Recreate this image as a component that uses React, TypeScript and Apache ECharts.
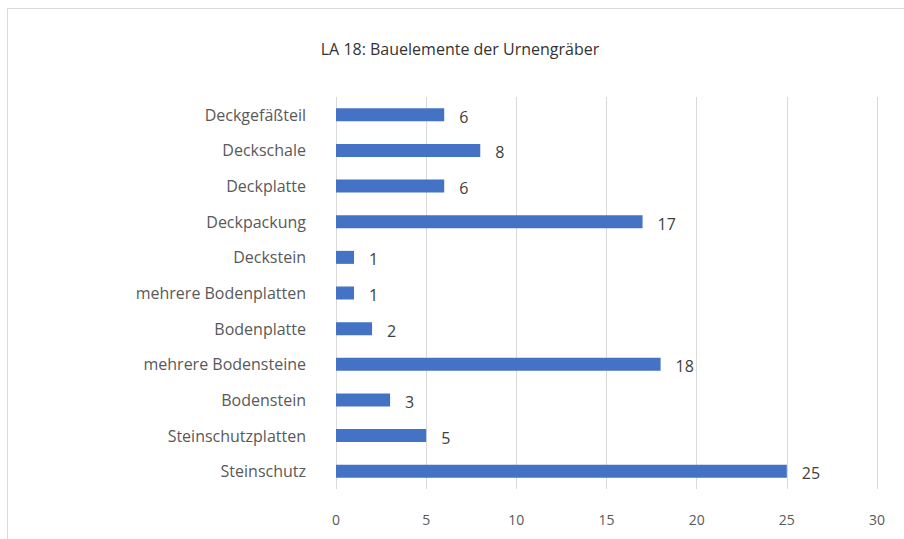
import React, { useEffect, useRef } from "react";
import * as echarts from "echarts";

const categories = [
  "Deckgefäßteil",
  "Deckschale",
  "Deckplatte",
  "Deckpackung",
  "Deckstein",
  "mehrere Bodenplatten",
  "Bodenplatte",
  "mehrere Bodensteine",
  "Bodenstein",
  "Steinschutzplatten",
  "Steinschutz",
];
const values = [6, 8, 6, 17, 1, 1, 2, 18, 3, 5, 25];
const titleText = "LA 18: Bauelemente der Urnengräber";

export default function App() {
  const ref = useRef<HTMLDivElement>(null);
  useEffect(() => {
    document.body.style.margin = "0";
    const chart = echarts.init(ref.current!, null, { renderer: "svg" });
    const font = "'Open Sans', 'Noto Sans', sans-serif";
    chart.setOption({
      animation: false,
      backgroundColor: "#ffffff",
      textStyle: { fontFamily: font },
      title: {
        text: titleText,
        left: 455,
        top: 36,
        textAlign: "center",
        textStyle: { fontFamily: font, fontSize: 16, fontWeight: "normal", color: "#333333" },
      },
      graphic: [
        {
          type: "rect",
          shape: { x: 7.5, y: 8.5, width: 1000, height: 700 },
          style: { fill: "none", stroke: "#d9d9d9", lineWidth: 1 },
          silent: true,
        },
      ],
      grid: { left: 336, right: 27, top: 97, bottom: 50 },
      xAxis: {
        type: "value",
        min: 0,
        max: 30,
        interval: 5,
        axisLine: { show: false },
        axisTick: { show: false },
        splitLine: { lineStyle: { color: "#d9d9d9", width: 1 } },
        axisLabel: { fontFamily: font, fontSize: 14, color: "#595959", margin: 23 },
      },
      yAxis: {
        type: "category",
        inverse: true,
        data: categories,
        axisLine: { show: false },
        axisTick: { show: false },
        axisLabel: { fontFamily: font, fontSize: 16, color: "#595959", margin: 30 },
      },
      series: [
        {
          type: "bar",
          data: values,
          barWidth: 13,
          itemStyle: { color: "#4472C4" },
          label: {
            show: true,
            position: "right",
            distance: 15,
            offset: [0, 2],
            fontFamily: font,
            fontSize: 16,
            color: "#404040",
          },
        },
      ],
    });
    return () => chart.dispose();
  }, []);
  return <div ref={ref} style={{ width: 904, height: 539 }} />;
}
